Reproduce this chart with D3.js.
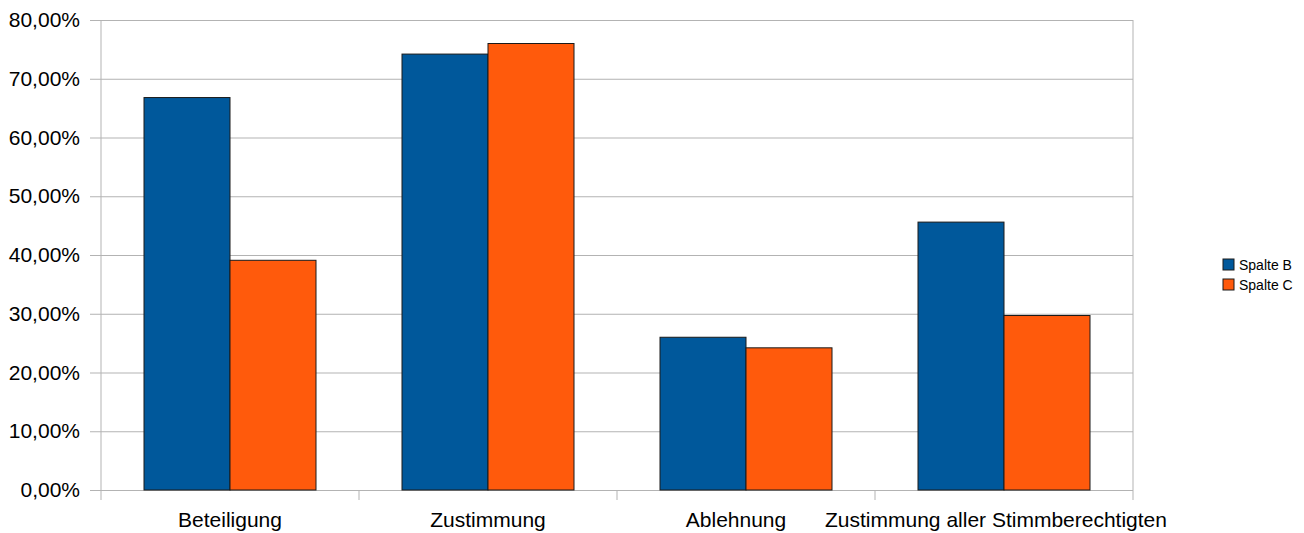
<!DOCTYPE html>
<html>
<head>
<meta charset="utf-8">
<script src="https://d3js.org/d3.v7.min.js"></script>
<style>
  body { margin: 0; background: #fff; }
  svg { font-family: "Liberation Sans", Arial, sans-serif; }
</style>
</head>
<body>
<svg id="chart" width="1304" height="533"></svg>
<script>
// ----------------------------------------
//  Data
// ----------------------------------------
var categories = ["Beteiligung", "Zustimmung", "Ablehnung", "Zustimmung aller Stimmberechtigten"];
var seriesNames = ["Spalte B", "Spalte C"];
var spalteB = [0.668, 0.742, 0.260, 0.456];
var spalteC = [0.391, 0.760, 0.242, 0.297];
var yTicks = [0, 0.1, 0.2, 0.3, 0.4, 0.5, 0.6, 0.7, 0.8];
var colors = ["#00589b", "#ff5a0c"];

// label nudges (LibreOffice shifts the long labels a bit)
var labelShift = [0, 0, -10, -8];

// ----------------------------------------
//  Sizing
// ----------------------------------------
var plotLeft = 101, plotRight = 1133, plotTop = 20, plotBottom = 490;
var svg = d3.select("#chart");

var x = d3.scaleBand()
    .domain(categories)
    .range([plotLeft, plotRight]);

var xInner = d3.scaleBand()
    .domain(seriesNames)
    .range([0, x.bandwidth()])
    .paddingOuter(0.5);   // two bars = 2/3 of the band

var y = d3.scaleLinear()
    .domain([0, 0.8])
    .range([plotBottom, plotTop]);

var fmt = function(d) { return d3.format(".2f")(d * 100).replace(".", ",") + "%"; };

// ----------------------------------------
//  Grid + y axis
// ----------------------------------------
var yAxis = svg.append("g")
    .attr("transform", "translate(" + plotLeft + ",0)")
    .call(d3.axisLeft(y).tickValues(yTicks).tickFormat(fmt)
        .tickSize(11).tickPadding(10));
yAxis.select(".domain").remove();
yAxis.selectAll(".tick line")
    .attr("x2", plotRight - plotLeft)
    .attr("x1", -11)
    .attr("stroke", "#b3b3b3");
yAxis.selectAll(".tick text")
    .attr("font-size", 21)
    .attr("fill", "#000");

// frame sides
svg.append("line").attr("x1", plotLeft).attr("x2", plotLeft).attr("y1", plotTop).attr("y2", plotBottom + 10)
    .attr("stroke", "#b3b3b3");
svg.append("line").attr("x1", plotRight).attr("x2", plotRight).attr("y1", plotTop).attr("y2", plotBottom + 10)
    .attr("stroke", "#b3b3b3");

// category ticks
svg.selectAll(".ctick")
    .data(categories.slice(1))
    .enter().append("line")
    .attr("x1", function(d) { return x(d); })
    .attr("x2", function(d) { return x(d); })
    .attr("y1", plotBottom)
    .attr("y2", plotBottom + 10)
    .attr("stroke", "#b3b3b3");

// ----------------------------------------
//  Bars
// ----------------------------------------
var rows = categories.map(function(c, i) {
  return { cat: c, vals: [spalteB[i], spalteC[i]] };
});

var groups = svg.selectAll(".grp")
    .data(rows)
    .enter().append("g")
    .attr("transform", function(d) { return "translate(" + x(d.cat) + ",0)"; });

groups.selectAll("rect")
    .data(function(d) { return d.vals.map(function(v, j) { return { s: seriesNames[j], v: v, j: j }; }); })
    .enter().append("rect")
    .attr("x", function(d) { return xInner(d.s); })
    .attr("width", xInner.bandwidth())
    .attr("y", function(d) { return y(d.v); })
    .attr("height", function(d) { return y(0) - y(d.v); })
    .attr("fill", function(d) { return colors[d.j]; })
    .attr("stroke", "#1a1a1a")
    .attr("stroke-width", 1);

// ----------------------------------------
//  Category labels
// ----------------------------------------
svg.selectAll(".clabel")
    .data(categories)
    .enter().append("text")
    .attr("x", function(d, i) { return x(d) + x.bandwidth() / 2 + labelShift[i]; })
    .attr("y", 527)
    .attr("text-anchor", "middle")
    .attr("font-size", 21)
    .text(function(d) { return d; });

// ----------------------------------------
//  Legend
// ----------------------------------------
var legend = svg.selectAll(".leg")
    .data(seriesNames)
    .enter().append("g")
    .attr("transform", function(d, i) { return "translate(1223," + (259 + i * 20) + ")"; });

legend.append("rect")
    .attr("width", 11).attr("height", 11)
    .attr("fill", function(d, i) { return colors[i]; })
    .attr("stroke", "#1a1a1a");

legend.append("text")
    .attr("x", 16).attr("y", 11)
    .attr("font-size", 14)
    .text(function(d) { return d; });
</script>
</body>
</html>
